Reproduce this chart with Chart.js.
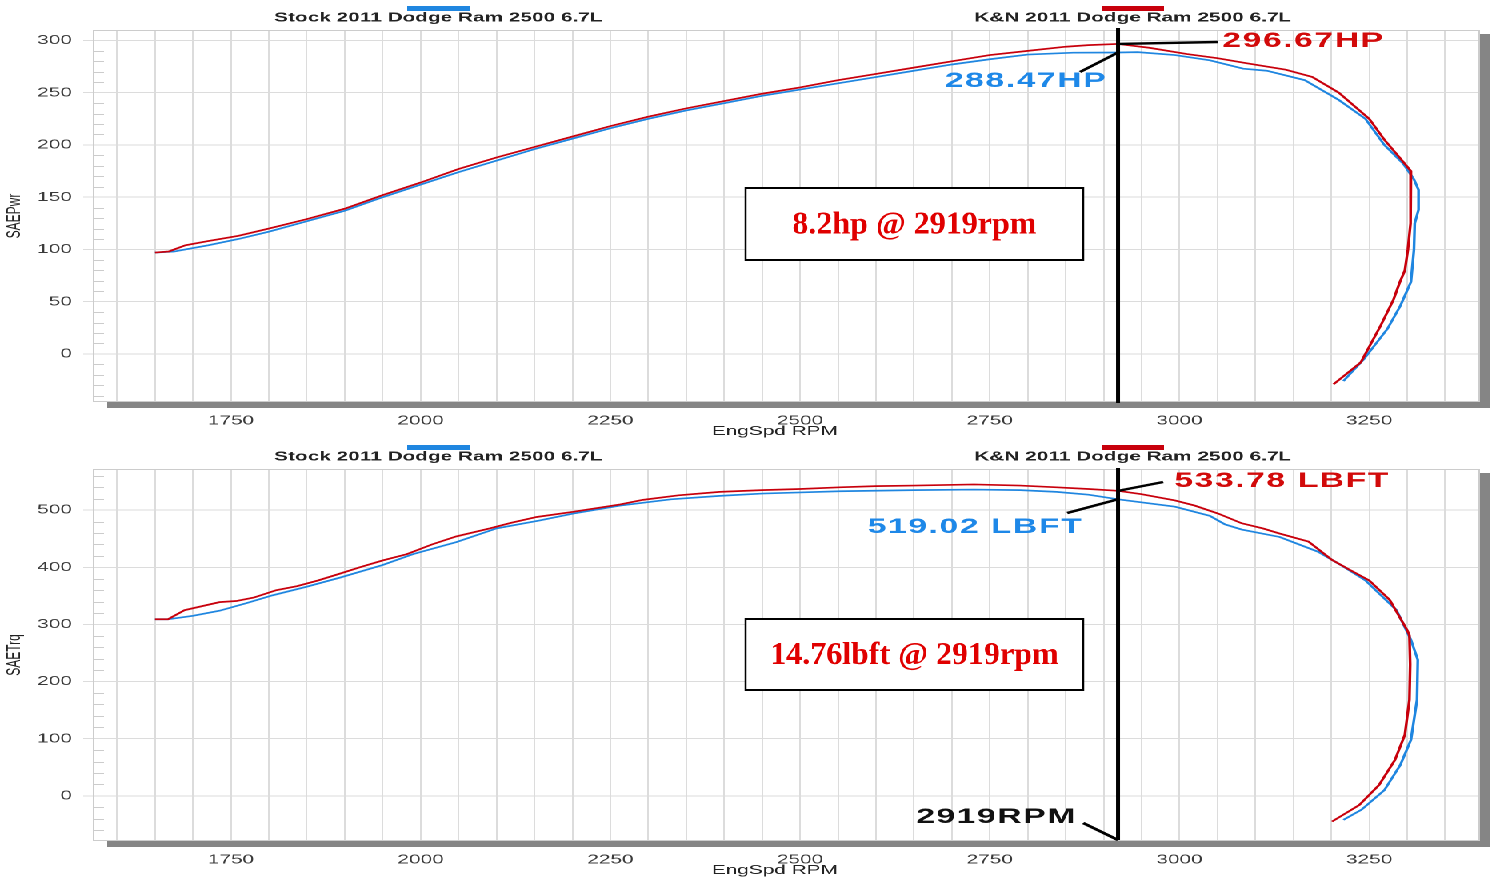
<!DOCTYPE html>
<html>
<head>
<meta charset="utf-8">
<script src="https://cdn.jsdelivr.net/npm/chart.js@4.4.1/dist/chart.umd.min.js"></script>
<style>
  html, body { margin: 0; padding: 0; background: #fff; overflow: hidden; }
  /* the dyno print is stretched sideways, so the whole sheet is drawn narrow and scaled */
  #stage { position: absolute; left: 0; top: 0; width: 936px; height: 878px; transform: scaleX(1.6); transform-origin: 0 0; }
  #stage canvas { position: absolute; left: 0; }
  #pwrChart { top: 0; }
  #trqChart { top: 439px; }
</style>
</head>
<body>
<div id="stage">
  <canvas id="pwrChart" width="936" height="439"></canvas>
  <canvas id="trqChart" width="936" height="439"></canvas>
</div>
<script>
// --- Data ---
const runNames = ['K&N 2011 Dodge Ram 2500 6.7L', 'Stock 2011 Dodge Ram 2500 6.7L'];
const peakRpm = 2919;

const knPwrRpm = [1650, 1668, 1690, 1720, 1760, 1800, 1850, 1900, 1950, 2000, 2050, 2100, 2150, 2200, 2250, 2300, 2350, 2400, 2450, 2500, 2550, 2600, 2650, 2700, 2750, 2800, 2850, 2880, 2919, 2960, 3010, 3050, 3090, 3140, 3175, 3210, 3250, 3270, 3290, 3305, 3305, 3304, 3301, 3297, 3290, 3282, 3265, 3239, 3203];
const knPwr = [97, 98, 104, 108, 113, 120, 129, 139, 152, 164, 177, 188, 198, 208, 218, 227, 235, 242, 249, 255, 262, 268, 274, 280, 286, 290, 294, 295.5, 296.67, 293, 287, 283, 278, 272, 265, 250, 225, 205, 188, 175, 150, 125, 100, 80, 68, 52, 27, -8, -29];

const stockPwrRpm = [1650, 1675, 1690, 1720, 1760, 1800, 1850, 1900, 1950, 2000, 2050, 2100, 2150, 2200, 2250, 2300, 2350, 2400, 2450, 2500, 2550, 2600, 2650, 2700, 2750, 2800, 2860, 2919, 2945, 2994, 3040, 3084, 3115, 3165, 3210, 3245, 3270, 3295, 3309, 3315, 3315, 3310, 3309, 3305, 3291, 3274, 3243, 3216];
const stockPwr = [97, 98, 100, 104, 110, 117, 127, 137, 150, 162, 174, 185, 196, 206, 216, 225, 233, 240, 247, 253, 259, 265, 271, 277, 282, 286.5, 288.3, 288.47, 288.8, 286, 281, 273, 271, 262, 243, 225, 200, 182, 167, 157, 138, 125, 100, 69, 46, 24, -5, -26];

const knTrqRpm = [1650, 1667, 1689, 1735, 1757, 1780, 1810, 1837, 1865, 1894, 1920, 1950, 1982, 2015, 2047, 2091, 2120, 2153, 2201, 2263, 2293, 2340, 2394, 2450, 2500, 2552, 2600, 2650, 2729, 2790, 2838, 2880, 2919, 2950, 2994, 3020, 3051, 3082, 3110, 3132, 3170, 3201, 3225, 3250, 3277, 3300, 3303, 3304, 3303, 3297, 3284, 3263, 3237, 3201];
const knTrq = [309, 309, 325, 339, 341, 347, 360, 367, 377, 389, 400, 412, 423, 440, 454, 468, 478, 488, 497, 510, 518, 526, 532, 535, 537, 540, 542, 543, 545, 543, 540, 537, 533.78, 528, 517, 508, 494, 477, 468, 459, 445, 413, 395, 377, 343, 290, 281, 230, 168, 107, 63, 19, -16, -45];

const stockTrqRpm = [1650, 1667, 1700, 1735, 1770, 1805, 1850, 1894, 1950, 1990, 2047, 2100, 2157, 2201, 2263, 2330, 2394, 2450, 2500, 2552, 2650, 2729, 2790, 2838, 2880, 2919, 2994, 3040, 3060, 3082, 3132, 3183, 3215, 3245, 3286, 3305, 3314, 3313, 3305, 3291, 3270, 3240, 3216];
const stockTrq = [309, 309, 315, 324, 337, 351, 366, 382, 404, 423, 444, 468, 482, 494, 508, 519, 525, 529, 531, 533, 535, 536, 535, 532, 527, 519.02, 506, 490, 475, 466, 453, 427, 402, 377, 325, 273, 238, 168, 98, 54, 10, -24, -42];

const rpmTickLabels = [1750, 2000, 2250, 2500, 2750, 3000, 3250];
const pwrTicks = [0, 50, 100, 150, 200, 250, 300];
const trqTicks = [0, 100, 200, 300, 400, 500];

// --- Styles ---
const colors = {
    kn: '#c8000c',
    stock: '#1f86e0',
    knText: '#d20a0a',
    stockText: '#1e88e8',
    grid: '#dcdcdc',
    frame: '#cccccc',
    shadow: '#858585',
    text: '#3a3a3a'
};
const sans = '"Liberation Sans", Arial, sans-serif';
const stretch = 1.6;

// gridlines every 50 rpm
const rpmGrid = [];
for (let v = 1600; v <= 3350; v += 50) rpmGrid.push(v);

function zip(xs, ys) {
    return xs.map((x, i) => ({ x: x, y: ys[i] }));
}

function valueAt(xs, ys, rpm) {
    return ys[xs.indexOf(rpm)];
}

function line(ctx, x1, y1, x2, y2) {
    ctx.beginPath();
    ctx.moveTo(x1, y1);
    ctx.lineTo(x2, y2);
    ctx.stroke();
}

const dynoNotes = {
    id: 'dynoNotes',
    beforeDraw(chart) {
        const { ctx, chartArea: a } = chart;
        ctx.save();
        ctx.fillStyle = colors.shadow;
        ctx.fillRect(a.left + 9, a.top + 4, a.width - 3, a.height + 2);
        ctx.fillStyle = '#fff';
        ctx.fillRect(a.left, a.top, a.width, a.height);
        ctx.restore();
    },
    beforeDatasetsDraw(chart, args, o) {
        const { ctx, chartArea: a } = chart;
        const y = chart.scales.y;
        ctx.save();
        ctx.strokeStyle = colors.frame;
        ctx.lineWidth = 1;
        ctx.strokeRect(a.left + 0.5, a.top + 0.5, a.width - 1, a.height - 1);
        // minor ticks along the left edge
        ctx.beginPath();
        for (let v = Math.ceil(y.min / o.minorStep) * o.minorStep; v <= y.max; v += o.minorStep) {
            if (v % o.majorStep === 0) continue;
            const py = Math.round(y.getPixelForValue(v)) + 0.5;
            ctx.moveTo(a.left, py);
            ctx.lineTo(a.left + 7, py);
        }
        ctx.stroke();
        ctx.restore();
    },
    afterDatasetsDraw(chart, args, o) {
        const { ctx } = chart;
        const x = chart.scales.x;
        const y = chart.scales.y;
        const xm = x.getPixelForValue(peakRpm);
        ctx.save();
        ctx.strokeStyle = '#000';
        ctx.lineWidth = 2.5;
        line(ctx, xm, o.markerTop, xm, o.markerBottom);

        ctx.font = 'bold 21px ' + sans;
        ctx.letterSpacing = '1px';
        ctx.textBaseline = 'middle';
        o.notes.forEach(n => {
            ctx.lineWidth = 2.4;
            line(ctx, xm, y.getPixelForValue(n.value), n.to[0], n.to[1]);
            ctx.fillStyle = n.color;
            ctx.textAlign = n.align;
            ctx.fillText(n.text, n.x, n.y);
        });
        if (o.rpmNote) {
            const r = o.rpmNote;
            line(ctx, r.from[0], r.from[1], xm, o.markerBottom);
            ctx.fillStyle = '#111';
            ctx.textAlign = 'right';
            ctx.fillText(r.text, r.x, r.y);
        }
        ctx.restore();

        // gain box, drawn unstretched
        const b = o.box;
        ctx.save();
        ctx.scale(1 / stretch, 1);
        ctx.fillStyle = '#fff';
        ctx.fillRect(b.x * stretch, b.y, b.w * stretch, b.h);
        ctx.strokeStyle = '#000';
        ctx.lineWidth = 2;
        ctx.strokeRect(b.x * stretch, b.y, b.w * stretch, b.h);
        ctx.fillStyle = '#e00000';
        ctx.font = 'bold 32px "Liberation Serif", "Times New Roman", serif';
        ctx.textAlign = 'center';
        ctx.textBaseline = 'middle';
        ctx.fillText(b.text, (b.x + b.w / 2) * stretch, b.y + b.h / 2 + 1);
        ctx.restore();
    },
    afterDraw(chart) {
        const { ctx } = chart;
        const heads = [{ ds: 1, cx: 274 }, { ds: 0, cx: 708 }];
        ctx.save();
        ctx.font = 'bold 13px ' + sans;
        ctx.textAlign = 'center';
        ctx.textBaseline = 'middle';
        heads.forEach(h => {
            const ds = chart.data.datasets[h.ds];
            ctx.fillStyle = ds.borderColor;
            ctx.fillRect(h.cx - 19.5, 6, 39, 5);
            ctx.fillStyle = '#222';
            ctx.fillText(ds.label, h.cx, 18);
        });
        ctx.restore();
    }
};

function makeScales(yMin, yMax, yTicks, yTitle) {
    return {
        x: {
            type: 'linear',
            min: 1568,
            max: 3396,
            afterBuildTicks: s => { s.ticks = rpmGrid.map(v => ({ value: v })); },
            afterFit: s => { s.height = 37; },
            grid: { color: colors.grid, lineWidth: 1, drawTicks: false },
            border: { display: false },
            ticks: {
                autoSkip: false,
                maxRotation: 0,
                padding: 11,
                color: colors.text,
                font: { family: sans, size: 13 },
                callback: v => rpmTickLabels.includes(v) ? String(v) : ''
            },
            // trailing spaces nudge the title left, as on the print
            title: { display: true, text: 'EngSpd RPM\u00a0\u00a0\u00a0\u00a0', color: '#222', font: { family: sans, size: 13 }, padding: 0 }
        },
        y: {
            type: 'linear',
            min: yMin,
            max: yMax,
            afterBuildTicks: s => { s.ticks = yTicks.map(v => ({ value: v })); },
            afterFit: s => { s.width = 58; },
            grid: { color: colors.grid, lineWidth: 1, tickLength: 6, tickColor: colors.grid },
            border: { display: false },
            ticks: { padding: 7, color: colors.text, font: { family: sans, size: 13 } },
            title: { display: true, text: yTitle, color: '#222', font: { family: sans, size: 12 }, padding: { top: 2, bottom: 0 } }
        }
    };
}

function makeDatasets(knX, knY, stX, stY) {
    const base = { showLine: true, pointRadius: 0, borderWidth: 1.7, tension: 0, fill: false };
    return [
        Object.assign({ label: runNames[0], data: zip(knX, knY), borderColor: colors.kn }, base),
        Object.assign({ label: runNames[1], data: zip(stX, stY), borderColor: colors.stock }, base)
    ];
}

function makeChart(id, datasets, scales, notes) {
    return new Chart(document.getElementById(id), {
        type: 'scatter',
        data: { datasets: datasets },
        options: {
            responsive: false,
            animation: false,
            devicePixelRatio: 2,
            layout: { padding: { left: 0, right: 11, top: 30, bottom: 0 } },
            scales: scales,
            plugins: {
                legend: { display: false },
                tooltip: { enabled: false },
                dynoNotes: notes
            }
        },
        plugins: [dynoNotes]
    });
}

const knPeakPwr = valueAt(knPwrRpm, knPwr, peakRpm);
const stockPeakPwr = valueAt(stockPwrRpm, stockPwr, peakRpm);
const knPeakTrq = valueAt(knTrqRpm, knTrq, peakRpm);
const stockPeakTrq = valueAt(stockTrqRpm, stockTrq, peakRpm);
const gain = (a, b) => parseFloat((a - b).toFixed(2));

makeChart('pwrChart',
    makeDatasets(knPwrRpm, knPwr, stockPwrRpm, stockPwr),
    makeScales(-46, 310, pwrTicks, 'SAEPwr'),
    {
        minorStep: 10, majorStep: 50,
        markerTop: 28, markerBottom: 403,
        notes: [
            { value: knPeakPwr, to: [761, 42], text: knPeakPwr.toFixed(2) + 'HP', color: colors.knText, x: 764, y: 41, align: 'left' },
            { value: stockPeakPwr, to: [675, 72], text: stockPeakPwr.toFixed(2) + 'HP', color: colors.stockText, x: 692, y: 81, align: 'right' }
        ],
        box: { x: 466, y: 188, w: 211, h: 72, text: gain(knPeakPwr, stockPeakPwr) + 'hp @ ' + peakRpm + 'rpm' }
    });

makeChart('trqChart',
    makeDatasets(knTrqRpm, knTrq, stockTrqRpm, stockTrq),
    makeScales(-79, 572, trqTicks, 'SAETrq'),
    {
        minorStep: 20, majorStep: 100,
        markerTop: 29, markerBottom: 401,
        notes: [
            { value: knPeakTrq, to: [727, 43], text: knPeakTrq.toFixed(2) + ' LBFT', color: colors.knText, x: 734, y: 42, align: 'left' },
            { value: stockPeakTrq, to: [667, 74], text: stockPeakTrq.toFixed(2) + ' LBFT', color: colors.stockText, x: 677, y: 88, align: 'right' }
        ],
        rpmNote: { text: peakRpm + 'RPM', x: 673, y: 378, from: [677, 384] },
        box: { x: 466, y: 180, w: 211, h: 71, text: gain(knPeakTrq, stockPeakTrq) + 'lbft @ ' + peakRpm + 'rpm' }
    });
</script>
</body>
</html>
